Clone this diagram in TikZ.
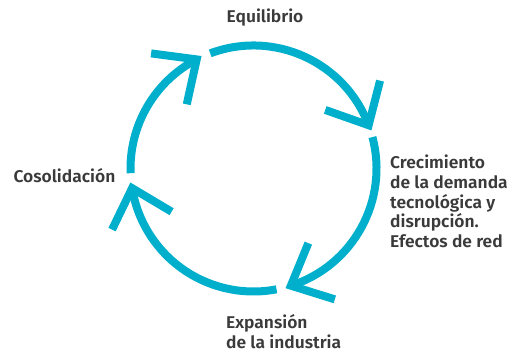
\documentclass[tikz,border=0pt]{standalone}
\usepackage{fontspec}
\IfFontExistsTF{Fira Sans SemiBold}{\setmainfont{Fira Sans SemiBold}[FakeStretch=1.025]}{\setmainfont{Fira Sans}}
\usetikzlibrary{calc}
\definecolor{ringcyan}{HTML}{00AFCB}
\definecolor{labelgray}{HTML}{3A3A3A}
% start angle, end angle (arrow vertex), name
\newcommand\ringarc[3]{%
  \draw[ring] ($(C)+(#1:\R)$) arc[start angle=#1, end angle=#2, radius=\R];
  \coordinate (#3) at ($(C)+(#2:\R)$);
  \draw[ring, line join=miter] ($(#3)+(#2+55:46)$) -- (#3) -- ($(#3)+(#2+140:46)$);
}
\begin{document}
\begin{tikzpicture}[x=1pt,y=1pt,
  ring/.style={draw=ringcyan, line width=8pt, line cap=butt},
  lbl/.style={text=labelgray, font=\fontsize{17}{20}\selectfont, inner sep=0pt, anchor=base west}]
\useasboundingbox (0,0) rectangle (512,357);
\coordinate (C) at (253.5,188.5);
\def\R{123}
\ringarc{110.6}{20.6}{tipA}
\ringarc{14.8}{-72.3}{tipB}
\ringarc{-79.2}{-170.8}{tipC}
\ringarc{182.2}{117.5}{tipD}
\node[lbl] (eq) at (226.5,334.3) {Equilibrio};
\node[lbl] (cos) at (13.3,174.7) {Cosolidación};
\node[lbl] (cr1) at (390,188.7) {Crecimiento};
\node[lbl] (cr2) at (390,168.85) {de la demanda};
\node[lbl] (cr3) at (390,149.0) {tecnológica y};
\node[lbl] (cr4) at (390,129.15) {disrupción.};
\node[lbl] (cr5) at (390,109.3) {Efectos de red};
\node[lbl] (ex1) at (226,28.7) {Expansión};
\node[lbl] (ex2) at (226,8.3) {de la industria};
\end{tikzpicture}
\end{document}
